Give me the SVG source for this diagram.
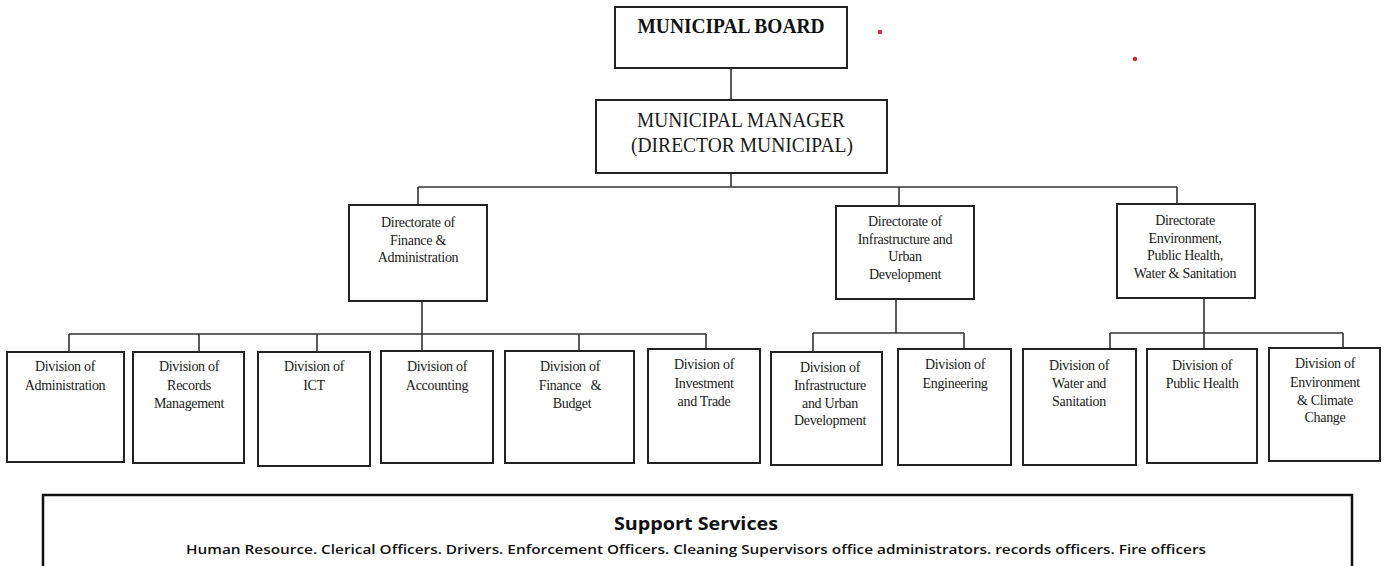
<svg xmlns="http://www.w3.org/2000/svg" width="1384" height="566" viewBox="0 0 1384 566">
<style>
.box{fill:#fff;stroke:#222;stroke-width:2}
.ln{fill:none;stroke:#333;stroke-width:1.6}
.t{font-family:"Liberation Serif","Times New Roman",serif;font-size:14px;fill:#1a1a1a;text-anchor:middle;letter-spacing:-0.3px}
.tb{font-family:"Liberation Serif","Times New Roman",serif;font-size:21px;font-weight:bold;fill:#111;text-anchor:middle}
.tm{font-family:"Liberation Serif","Times New Roman",serif;font-size:20px;fill:#1a1a1a;text-anchor:middle}
.ss{font-family:"Open Sans","Liberation Sans",sans-serif;fill:#111;text-anchor:middle}
</style>
<rect width="1384" height="566" fill="#fff"/>
<g id="connectors">
<path class="ln" d="M731 68V100M731 173V187M418 187H1177M418 187V205M899 187V206M1177 187V204"/>
<path class="ln" d="M422 301V351M69 334H706M69 334V352M199 334V352M317 334V352M579 334V351M706 334V349"/>
<path class="ln" d="M896 299V333M813 333H964M813 333V352M964 333V349"/>
<path class="ln" d="M1204 298V348M1110 333H1343M1110 333V349M1343 333V348"/>
</g>
<g id="board"><rect class="box" x="615" y="7" width="232" height="61"/><text class="tb" x="731" y="33" textLength="187" lengthAdjust="spacingAndGlyphs">MUNICIPAL BOARD</text></g>
<g id="manager"><rect class="box" x="596" y="100" width="291" height="73"/><text class="tm" x="741" y="127" textLength="208" lengthAdjust="spacingAndGlyphs">MUNICIPAL MANAGER</text><text class="tm" x="742" y="152" textLength="222" lengthAdjust="spacingAndGlyphs">(DIRECTOR MUNICIPAL)</text></g>
<g id="dir-finance"><rect class="box" x="349" y="205" width="138" height="96"/><text class="t" x="418" y="227">Directorate of</text><text class="t" x="418" y="245">Finance &amp;</text><text class="t" x="418" y="262">Administration</text></g>
<g id="dir-infra"><rect class="box" x="836" y="206" width="138" height="93"/><text class="t" x="905" y="226">Directorate of</text><text class="t" x="905" y="244">Infrastructure and</text><text class="t" x="905" y="261">Urban</text><text class="t" x="905" y="279">Development</text></g>
<g id="dir-env"><rect class="box" x="1117" y="204" width="138" height="94"/><text class="t" x="1185" y="225">Directorate</text><text class="t" x="1185" y="243">Environment,</text><text class="t" x="1185" y="260">Public Health,</text><text class="t" x="1185" y="278">Water &amp; Sanitation</text></g>
<g id="div-admin"><rect class="box" x="7" y="352" width="117" height="110"/><text class="t" x="65" y="371">Division of</text><text class="t" x="65" y="390">Administration</text></g>
<g id="div-records"><rect class="box" x="133" y="352" width="111" height="111"/><text class="t" x="189" y="371">Division of</text><text class="t" x="189" y="390">Records</text><text class="t" x="189" y="408">Management</text></g>
<g id="div-ict"><rect class="box" x="258" y="352" width="112" height="114"/><text class="t" x="314" y="371">Division of</text><text class="t" x="314" y="390">ICT</text></g>
<g id="div-accounting"><rect class="box" x="381" y="351" width="112" height="112"/><text class="t" x="437" y="371">Division of</text><text class="t" x="437" y="390">Accounting</text></g>
<g id="div-finance"><rect class="box" x="505" y="351" width="129" height="112"/><text class="t" x="570" y="371">Division of</text><text class="t" x="570" y="390" style="white-space:pre">Finance   &amp;</text><text class="t" x="572" y="408">Budget</text></g>
<g id="div-investment"><rect class="box" x="648" y="349" width="112" height="114"/><text class="t" x="704" y="369">Division of</text><text class="t" x="704" y="388">Investment</text><text class="t" x="704" y="406">and Trade</text></g>
<g id="div-infra"><rect class="box" x="771" y="352" width="111" height="113"/><text class="t" x="830" y="372">Division of</text><text class="t" x="830" y="390">Infrastructure</text><text class="t" x="830" y="408">and Urban</text><text class="t" x="830" y="425">Development</text></g>
<g id="div-engineering"><rect class="box" x="898" y="349" width="113" height="116"/><text class="t" x="955" y="369">Division of</text><text class="t" x="955" y="388">Engineering</text></g>
<g id="div-water"><rect class="box" x="1023" y="349" width="113" height="116"/><text class="t" x="1079" y="370">Division of</text><text class="t" x="1079" y="388">Water and</text><text class="t" x="1079" y="406">Sanitation</text></g>
<g id="div-health"><rect class="box" x="1147" y="349" width="110" height="114"/><text class="t" x="1202" y="370">Division of</text><text class="t" x="1202" y="388">Public Health</text></g>
<g id="div-env"><rect class="box" x="1269" y="348" width="111" height="113"/><text class="t" x="1325" y="368">Division of</text><text class="t" x="1325" y="387">Environment</text><text class="t" x="1325" y="405">&amp; Climate</text><text class="t" x="1325" y="422">Change</text></g>
<g id="support"><rect x="43" y="495" width="1309" height="90" fill="#fff" stroke="#111" stroke-width="2.5"/><text class="ss" x="696" y="530" font-size="17" font-weight="bold" textLength="164" lengthAdjust="spacingAndGlyphs">Support Services</text><text class="ss" x="696" y="554" font-size="13" font-weight="600" textLength="1020" lengthAdjust="spacingAndGlyphs">Human Resource. Clerical Officers. Drivers. Enforcement Officers. Cleaning Supervisors office administrators. records officers. Fire officers</text></g>
<circle cx="880" cy="32" r="2.2" fill="#e02020"/>
<circle cx="1135" cy="59" r="2.2" fill="#e02020"/>
</svg>
